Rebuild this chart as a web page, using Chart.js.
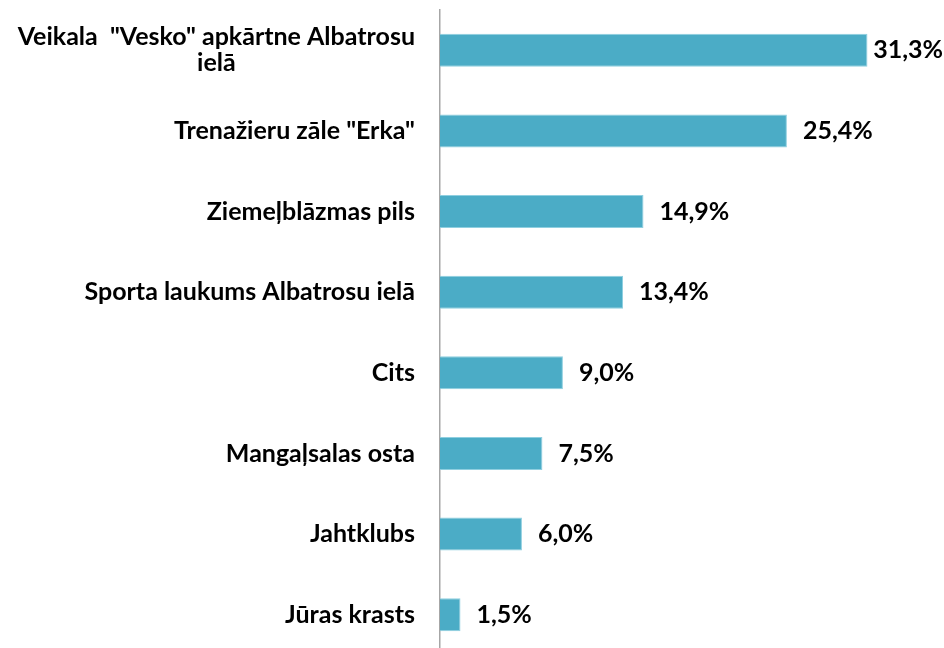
<!DOCTYPE html>
<html>
<head>
<meta charset="utf-8">
<script src="https://cdn.jsdelivr.net/npm/chart.js@4"></script>
<style>
  html, body { margin: 0; padding: 0; overflow: hidden; background: #fff; }
  #wrap { position: absolute; left: 0; top: 0; width: 944px; height: 655px; }
</style>
</head>
<body>
<div id="wrap"><canvas id="myChart"></canvas></div>
<script>
// dati
var kategorijas = [
  ['Veikala  "Vesko" apkārtne Albatrosu', 'ielā'],
  ['Trenažieru zāle "Erka"'],
  ['Ziemeļblāzmas pils'],
  ['Sporta laukums Albatrosu ielā'],
  ['Cits'],
  ['Mangaļsalas osta'],
  ['Jahtklubs'],
  ['Jūras krasts']
];
var vertibas = [31.3, 25.4, 14.9, 13.4, 9.0, 7.5, 6.0, 1.5];

var fonts = 'bold 25px Lato, "Liberation Sans", sans-serif';

function fmt(v) {
  return v.toFixed(1).replace('.', ',') + '%';
}

// kategoriju nosaukumi (centrēti, ja divās rindās) un vērtību etiķetes
var etiketes = {
  id: 'etiketes',
  afterDraw: function(chart) {
    var c = chart.ctx;
    var y = chart.scales.y;
    var area = chart.chartArea;
    c.save();
    c.font = fonts;
    c.fillStyle = '#000';
    c.textBaseline = 'middle';
    kategorijas.forEach(function(lines, i) {
      var yc = y.getPixelForValue(i);
      var widest = 0;
      lines.forEach(function(l) { widest = Math.max(widest, c.measureText(l).width); });
      var right = area.left - 25;
      var lh = 26;
      lines.forEach(function(l, j) {
        var yy = yc + (j - (lines.length - 1) / 2) * lh;
        c.textAlign = 'center';
        c.fillText(l, right - widest / 2, yy);
      });
    });
    var meta = chart.getDatasetMeta(0);
    meta.data.forEach(function(bar, i) {
      var txt = fmt(vertibas[i]);
      var w = c.measureText(txt).width;
      var x = Math.max(bar.x + 4, Math.min(bar.x + 16, chart.width - 1 - w));
      c.textAlign = 'left';
      c.fillText(txt, x, bar.y);
    });
    c.restore();
  }
};

var ctx = document.getElementById('myChart');
var myBarChart = new Chart(ctx, {
  type: 'bar',
  data: {
    labels: kategorijas.map(function(l) { return l.join(' '); }),
    datasets: [{
      data: vertibas,
      backgroundColor: '#4BACC6',
      borderColor: '#8FCFE0',
      borderWidth: 1,
      categoryPercentage: 1,
      barPercentage: 0.41
    }]
  },
  options: {
    indexAxis: 'y',
    responsive: true,
    maintainAspectRatio: false,
    animation: false,
    layout: { padding: { top: 10, right: 26, bottom: 0, left: 0 } },
    plugins: {
      legend: { display: false },
      tooltip: { enabled: false }
    },
    scales: {
      x: {
        display: false,
        min: 0,
        max: 35
      },
      y: {
        grid: { display: false, drawTicks: false },
        border: { display: true, color: '#A6A6A6', width: 1.5 },
        ticks: { display: false },
        afterFit: function(scale) { scale.width = 440; }
      }
    }
  },
  plugins: [etiketes]
});
</script>
</body>
</html>
